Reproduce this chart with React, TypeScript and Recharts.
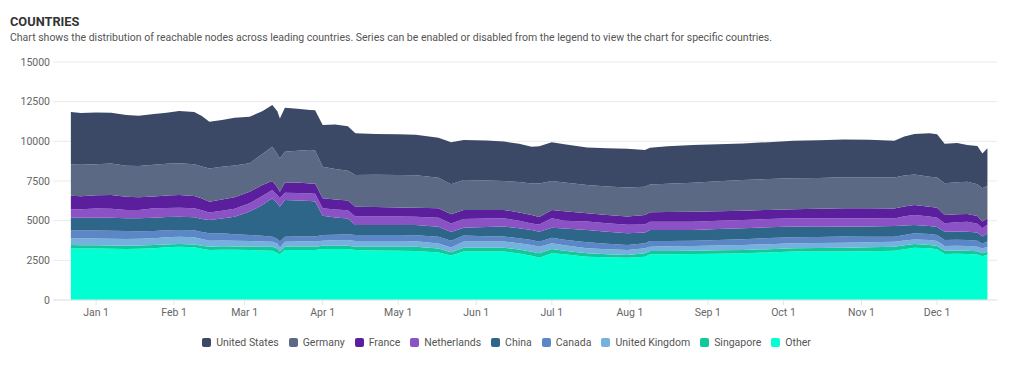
import React from 'react'
import { AreaChart, Area, XAxis, YAxis, CartesianGrid, Legend } from 'recharts'

const dates = [
	'2022-12-22', '2022-12-26', '2023-01-01', '2023-01-07', '2023-01-13', '2023-01-18', '2023-01-24', '2023-01-29',
	'2023-02-03', '2023-02-09', '2023-02-12', '2023-02-15', '2023-02-20', '2023-02-25', '2023-03-03', '2023-03-08',
	'2023-03-12', '2023-03-14', '2023-03-15', '2023-03-17', '2023-03-22', '2023-03-27', '2023-03-29', '2023-04-01',
	'2023-04-06', '2023-04-11', '2023-04-14', '2023-04-22', '2023-05-01', '2023-05-08', '2023-05-17', '2023-05-22',
	'2023-05-27', '2023-06-05', '2023-06-12', '2023-06-18', '2023-06-23', '2023-06-26', '2023-07-01', '2023-07-06',
	'2023-07-15', '2023-07-23', '2023-07-31', '2023-08-07', '2023-08-09', '2023-08-16', '2023-08-26', '2023-09-05',
	'2023-09-15', '2023-09-25', '2023-10-05', '2023-10-15', '2023-10-25', '2023-11-04', '2023-11-14', '2023-11-18',
	'2023-11-22', '2023-11-28', '2023-12-01', '2023-12-04', '2023-12-09', '2023-12-13', '2023-12-17', '2023-12-19',
	'2023-12-21',
]

const unitedStates = [
	3300, 3260, 3260, 3200, 3200, 3170, 3200, 3220, 3290, 3290, 3180, 2940, 2950, 3000, 2940, 2700,
	2640, 2700, 2520, 2770, 2650, 2520, 2540, 2620, 2810, 2800, 2620, 2570, 2560, 2560, 2520, 2650,
	2520, 2520, 2480, 2420, 2310, 2350, 2440, 2420, 2350, 2410, 2440, 2310, 2310, 2370, 2370, 2340,
	2310, 2330, 2370, 2380, 2390, 2370, 2310, 2450, 2540, 2730, 2730, 2500, 2480, 2310, 2400, 2200,
	2360,
]
const germany = [
	1980, 1980, 1960, 1990, 1950, 1970, 2000, 2000, 2000, 2000, 2020, 2100, 2070, 2000, 1790, 1950,
	2150, 2100, 2100, 1930, 2000, 2100, 2080, 2000, 1920, 1880, 2000, 2030, 2050, 2050, 1930, 1890,
	1890, 1850, 1830, 1910, 2000, 2100, 1830, 1800, 1790, 1800, 1830, 1790, 1760, 1780, 1830, 1880,
	1930, 1940, 1950, 1950, 1950, 1950, 1950, 1950, 1930, 1890, 1900, 2000, 2020, 2040, 2000, 2100,
	2050,
]
const france = [
	840, 820, 840, 860, 840, 800, 740, 780, 800, 780, 750, 670, 710, 730, 730, 700,
	570, 500, 420, 650, 660, 630, 640, 630, 630, 620, 630, 600, 580, 570, 590, 590,
	570, 550, 525, 520, 525, 480, 525, 600, 525, 520, 525, 590, 590, 610, 630, 600,
	590, 580, 570, 600, 630, 630, 630, 620, 630, 630, 640, 525, 500, 480, 500, 420,
	400,
]
const netherlands = [
	540, 540, 570, 570, 525, 520, 590, 570, 570, 560, 540, 480, 480, 500, 525, 570,
	525, 500, 525, 460, 470, 480, 490, 460, 500, 520, 525, 530, 525, 520, 570, 525,
	550, 530, 525, 480, 420, 450, 590, 500, 525, 530, 525, 500, 525, 525, 525, 530,
	525, 520, 525, 525, 525, 510, 480, 580, 630, 590, 580, 525, 580, 630, 550, 520,
	550,
]
const china = [
	800, 800, 810, 810, 800, 820, 840, 840, 840, 830, 830, 840, 940, 1100, 1470, 1930,
	2420, 2250, 2200, 2310, 2270, 2240, 2200, 1220, 1080, 990, 630, 630, 630, 640, 630, 560,
	500, 580, 630, 630, 630, 630, 630, 700, 780, 750, 740, 690, 690, 690, 670, 690,
	690, 680, 670, 650, 630, 650, 670, 600, 525, 500, 500, 525, 520, 525, 510, 450,
	500,
]
const canada = [
	505, 510, 510, 510, 505, 480, 460, 440, 420, 430, 430, 460, 450, 410, 380, 360,
	315, 290, 380, 315, 320, 320, 330, 360, 350, 360, 380, 380, 380, 380, 420, 420,
	380, 340, 315, 320, 315, 315, 360, 350, 380, 350, 315, 315, 360, 340, 340, 350,
	360, 380, 380, 380, 380, 350, 315, 350, 380, 380, 380, 380, 380, 380, 380, 300,
	350,
]
const unitedKingdom = [
	420, 420, 420, 420, 420, 420, 420, 450, 460, 460, 430, 380, 370, 370, 360, 330,
	315, 320, 250, 315, 320, 320, 320, 315, 350, 360, 360, 360, 360, 350, 315, 300,
	380, 380, 380, 390, 420, 420, 360, 350, 315, 320, 315, 315, 270, 290, 290, 300,
	315, 320, 315, 310, 315, 310, 315, 300, 290, 315, 310, 290, 300, 290, 280, 300,
	300,
]
const singapore = [
	210, 210, 200, 210, 210, 210, 210, 180, 170, 170, 190, 210, 210, 210, 210, 240,
	260, 280, 170, 210, 210, 210, 210, 210, 210, 210, 210, 240, 260, 260, 250, 210,
	250, 250, 250, 250, 250, 270, 270, 210, 210, 190, 170, 210, 210, 210, 210, 210,
	210, 200, 210, 230, 250, 250, 250, 250, 230, 210, 210, 210, 210, 210, 210, 200,
	180,
]
const other = [
	3250, 3240, 3250, 3230, 3210, 3230, 3260, 3320, 3360, 3330, 3230, 3150, 3170, 3160, 3150, 3120,
	3100, 2960, 2880, 3150, 3150, 3150, 3150, 3210, 3210, 3210, 3150, 3120, 3100, 3090, 3000, 2800,
	3050, 3050, 3050, 2930, 2790, 2670, 2940, 2890, 2730, 2690, 2670, 2730, 2880, 2880, 2900, 2920,
	2940, 3000, 3050, 3050, 3050, 3080, 3110, 3200, 3300, 3260, 3200, 2900, 2910, 2900, 2870, 2750,
	2870,
]

const yTicks = [0, 2500, 5000, 7500, 10000, 12500, 15000]
const monthNames = ['Jan', 'Feb', 'Mar', 'Apr', 'May', 'Jun', 'Jul', 'Aug', 'Sep', 'Oct', 'Nov', 'Dec']

// bottom of the stack first
const series = [
	{ key: 'other', name: 'Other', color: '#00ffd2', values: other },
	{ key: 'singapore', name: 'Singapore', color: '#10c99b', values: singapore },
	{ key: 'uk', name: 'United Kingdom', color: '#74b1dc', values: unitedKingdom },
	{ key: 'canada', name: 'Canada', color: '#5b87c7', values: canada },
	{ key: 'china', name: 'China', color: '#2e6689', values: china },
	{ key: 'netherlands', name: 'Netherlands', color: '#8a52c5', values: netherlands },
	{ key: 'france', name: 'France', color: '#5b1f9e', values: france },
	{ key: 'germany', name: 'Germany', color: '#5b6984', values: germany },
	{ key: 'us', name: 'United States', color: '#3c4966', values: unitedStates },
]

const DAY = 86400000
const jan1 = Date.UTC(2023, 0, 1)
const xTicks = monthNames.map((_, m) => Date.UTC(2023, m, 1))

const data = dates.map((d, i) => {
	const row: Record<string, number> = { t: Date.parse(d) }
	series.forEach(s => {
		row[s.key] = s.values[i]
	})
	return row
})

const fmtDate = (t: number) => {
	const d = new Date(t)
	return `${monthNames[d.getUTCMonth()]} ${d.getUTCDate()}`
}

const font = 'Roboto, "Open Sans", sans-serif'

const renderLegend = () => {
	const items = [...series].reverse()
	return (
		<div style={{ display: 'flex', justifyContent: 'center', fontFamily: font, fontSize: 10.5, color: '#555', paddingTop: 6, paddingLeft: 8 }}>
			{items.map((s, i) => (
				<span key={s.key} style={{ display: 'flex', alignItems: 'center', marginRight: i < items.length - 1 ? 10 : 0 }}>
					<span style={{ width: 9, height: 9, borderRadius: 2, background: s.color, marginRight: 5 }} />
					{s.name}
				</span>
			))}
		</div>
	)
}

const App = () => {
	return (
		<div style={{ position: 'relative', width: 1024, height: 371, margin: -8, background: '#fff', fontFamily: font }}>
			<div style={{ position: 'absolute', left: 10, top: 14, fontSize: 12.8, fontWeight: 700, color: '#333' }}>COUNTRIES</div>
			<div style={{ position: 'absolute', left: 10, top: 31, fontSize: 10.5, color: '#555', whiteSpace: 'nowrap' }}>
				Chart shows the distribution of reachable nodes across leading countries. Series can be enabled or disabled from the legend to view the chart for specific countries.
			</div>
			<div style={{ position: 'absolute', left: 0, top: 0 }}>
				<AreaChart width={1024} height={371} data={data} margin={{ top: 62, right: 27, left: 8, bottom: 19 }}>
					<CartesianGrid vertical={false} stroke='#ebebeb' />
					<XAxis
						dataKey='t'
						type='number'
						scale='time'
						domain={[jan1 - 17.1 * DAY, jan1 + 357.8 * DAY]}
						ticks={xTicks}
						tickFormatter={fmtDate}
						height={30}
						tickSize={5}
						tickMargin={4}
						axisLine={{ stroke: '#e6e6e6' }}
						tickLine={{ stroke: '#e6e6e6' }}
						tick={{ fill: '#666', fontSize: 10.5, fontFamily: font }}
						interval={0}
					/>
					<YAxis
						domain={[0, 15000]}
						ticks={yTicks}
						width={45}
						axisLine={false}
						tickLine={false}
						tickSize={0}
						tickMargin={3}
						tick={{ fill: '#666', fontSize: 10.5, fontFamily: font }}
					/>
					<Legend verticalAlign='bottom' height={22} content={renderLegend} />
					{series.map(s => (
						<Area
							key={s.key}
							type='linear'
							dataKey={s.key}
							name={s.name}
							stackId='1'
							stroke='none'
							fill={s.color}
							fillOpacity={1}
							isAnimationActive={false}
						/>
					))}
				</AreaChart>
			</div>
		</div>
	)
}

export default App
